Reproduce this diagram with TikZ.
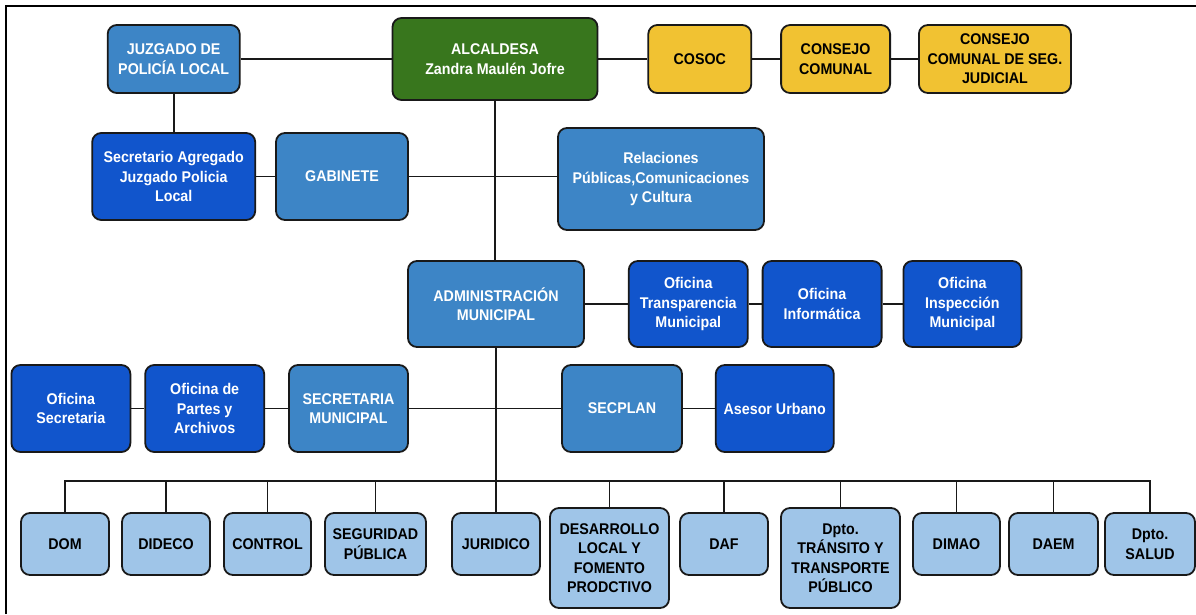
\documentclass[tikz,border=0pt]{standalone}
\usepackage{fontspec}
\setmainfont{Liberation Sans}[FakeStretch=0.92]
\usetikzlibrary{positioning}
\usepackage{xcolor}
\definecolor{verdeAlc}{HTML}{38761D}
\definecolor{amarilloCons}{HTML}{F1C232}
\definecolor{azulMedio}{HTML}{3D85C6}
\definecolor{azulOscuro}{HTML}{1155CC}
\definecolor{azulClaro}{HTML}{9FC5E8}

\begin{document}
\begin{tikzpicture}[
		x=1pt, y=-1pt, % coordenadas en pixeles, y hacia abajo
		% --- Estilos ---
		caja/.style={
			draw=black!90,
			line width=1.8pt,
			rectangle,
			rounded corners=9pt,
			align=center,
			inner sep=2pt,
			font=\bfseries\fontsize{15.5}{19.5}\selectfont
		},
		caja_verde/.style={caja, fill=verdeAlc, text=white},
		caja_amarilla/.style={caja, fill=amarilloCons, text=black, minimum height=68pt},
		caja_media/.style={caja, fill=azulMedio, text=white},
		caja_oscura/.style={caja, fill=azulOscuro, text=white},
		caja_clara/.style={caja, fill=azulClaro, text=black, minimum height=62pt},
		caja_alta/.style={caja_clara, minimum height=100pt},
		linea/.style={line width=1.8pt, black!90}
		]
		\useasboundingbox (0,0) rectangle (1196,614);
		% Marco superior e izquierdo
		\draw[line width=2.2pt] (6,614) -- (6,6) -- (1196,6);
		
		% 1. Fila superior: Alcaldesa, juzgado y consejos
		\node[caja_verde, minimum width=205pt, minimum height=82pt] (alcaldesa) at (495,59) {ALCALDESA\\Zandra Maulén Jofre};
		\node[caja_media, minimum width=132pt, minimum height=68pt, left=151pt of alcaldesa] (juzgado) {JUZGADO DE\\POLICÍA LOCAL};
		\node[caja_amarilla, minimum width=103pt, right=49pt of alcaldesa] (cosoc) {COSOC};
		\node[caja_amarilla, minimum width=109pt, right=28pt of cosoc] (consejo) {CONSEJO\\COMUNAL};
		\node[caja_amarilla, minimum width=152pt, right=27pt of consejo] (consejo_seg) {CONSEJO\\COMUNAL DE SEG.\\JUDICIAL};
		
		% 2. Gabinete y relaciones publicas
		\node[caja_media, minimum width=132pt, minimum height=87pt] (gabinete) at (342,176.5) {GABINETE};
		\node[caja_oscura, minimum width=163pt, minimum height=87pt, left=19pt of gabinete] (secretario) {Secretario Agregado\\Juzgado Policia\\Local};
		\node[caja_media, minimum width=206pt, minimum height=102pt] (relaciones) at (661,179) {Relaciones\\Públicas,Comunicaciones\\y Cultura};
		
		% 3. Administracion municipal y oficinas
		\node[caja_media, minimum width=176pt, minimum height=86pt] (admin) at (496,304) {ADMINISTRACIÓN\\MUNICIPAL};
		\node[caja_oscura, minimum width=119pt, minimum height=86pt, right=43pt of admin] (transparencia) {Oficina\\Transparencia\\Municipal};
		\node[caja_oscura, minimum width=119pt, minimum height=86pt, right=13pt of transparencia] (informatica) {Oficina\\Informática};
		\node[caja_oscura, minimum width=118pt, minimum height=86pt, right=20pt of informatica] (inspeccion) {Oficina\\Inspección\\Municipal};
		
		% 4. Secretaria municipal y SECPLAN
		\node[caja_media, minimum width=119pt, minimum height=87pt] (sec_mun) at (348.5,408.5) {SECRETARIA\\MUNICIPAL};
		\node[caja_oscura, minimum width=119pt, minimum height=87pt, left=23pt of sec_mun] (partes) {Oficina de\\Partes y\\Archivos};
		\node[caja_oscura, minimum width=119pt, minimum height=87pt, left=13pt of partes] (of_secretaria) {Oficina\\Secretaria};
		\node[caja_media, minimum width=120pt, minimum height=87pt] (secplan) at (622,408.5) {SECPLAN};
		\node[caja_oscura, minimum width=118pt, minimum height=87pt, right=32pt of secplan] (asesor) {Asesor Urbano};
		
		% 5. Direcciones (fila inferior)
		\node[caja_clara, minimum width=88pt] (dom) at (65,544) {DOM};
		\node[caja_clara, minimum width=88pt] (dideco) at (166,544) {DIDECO};
		\node[caja_clara, minimum width=87pt] (control) at (267.5,544) {CONTROL};
		\node[caja_clara, minimum width=101pt] (seguridad) at (375.5,544) {SEGURIDAD\\PÚBLICA};
		\node[caja_clara, minimum width=88pt] (juridico) at (496,544) {JURIDICO};
		\node[caja_alta, minimum width=119pt] (desarrollo) at (609.5,558) {DESARROLLO\\LOCAL Y\\FOMENTO\\PRODCTIVO};
		\node[caja_clara, minimum width=88pt] (daf) at (724,544) {DAF};
		\node[caja_alta, minimum width=119pt] (transito) at (840.5,558) {Dpto.\\TRÁNSITO Y\\TRANSPORTE\\PÚBLICO};
		\node[caja_clara, minimum width=87pt] (dimao) at (956.5,544) {DIMAO};
		\node[caja_clara, minimum width=89pt] (daem) at (1053.5,544) {DAEM};
		\node[caja_clara, minimum width=90pt] (salud) at (1150,544) {Dpto.\\SALUD};
		
		% 6. Conexiones
		\draw[linea] (juzgado.east) -- (alcaldesa.west);
		\draw[linea] (alcaldesa.east) -- (cosoc.west);
		\draw[linea] (cosoc.east) -- (consejo.west);
		\draw[linea] (consejo.east) -- (consejo_seg.west);
		\draw[linea] (juzgado.south) -- (juzgado.south |- secretario.north);
		\draw[linea] (secretario.east) -- (gabinete.west);
		\draw[linea] (gabinete.east) -- (gabinete.east -| relaciones.west);
		\draw[linea] (alcaldesa.south) -- (alcaldesa.south |- admin.north);
		\draw[linea] (admin.east) -- (transparencia.west);
		\draw[linea] (transparencia.east) -- (informatica.west);
		\draw[linea] (informatica.east) -- (inspeccion.west);
		\draw[linea] (of_secretaria.east) -- (partes.west);
		\draw[linea] (partes.east) -- (sec_mun.west);
		\draw[linea] (sec_mun.east) -- (secplan.west);
		\draw[linea] (secplan.east) -- (asesor.west);
		\draw[linea] (admin.south) -- (juridico.north);
		
		% Barra de direcciones
		\coordinate (barra) at (0,481);
		\draw[linea] (dom.north) -- (dom.north |- barra) -- (salud.north |- barra) -- (salud.north);
		\draw[linea] (dideco.north) -- (dideco.north |- barra);
		\draw[linea] (control.north) -- (control.north |- barra);
		\draw[linea] (seguridad.north) -- (seguridad.north |- barra);
		\draw[linea] (desarrollo.north) -- (desarrollo.north |- barra);
		\draw[linea] (daf.north) -- (daf.north |- barra);
		\draw[linea] (transito.north) -- (transito.north |- barra);
		\draw[linea] (dimao.north) -- (dimao.north |- barra);
		\draw[linea] (daem.north) -- (daem.north |- barra);
		
	\end{tikzpicture}
\end{document}
